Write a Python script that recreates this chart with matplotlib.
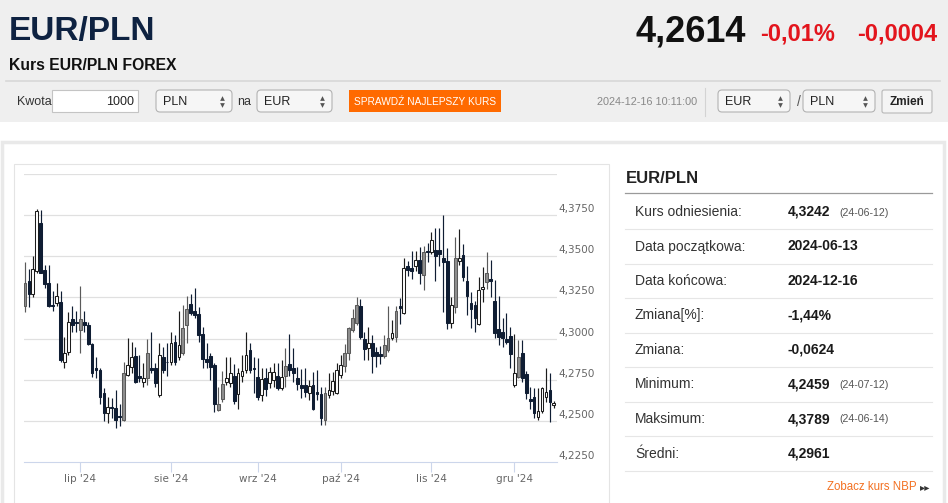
import matplotlib
matplotlib.use("Agg")
import matplotlib.pyplot as plt
from matplotlib.patches import Rectangle, FancyBboxPatch
from matplotlib import transforms
import pandas as pd

plt.rcParams['font.family'] = ['Liberation Sans', 'DejaVu Sans']

# --> candle data, 2024-06-11 .. 2024-12-16 (trading days)
opens = [4.3195, 4.3347, 4.3268, 4.3408, 4.3700, 4.3415, 4.3340, 4.3204, 4.3219, 4.3220,
         4.2860, 4.2920, 4.3120, 4.3097, 4.3055, 4.3103, 4.3085, 4.2970, 4.2823, 4.2810,
         4.2670, 4.2550, 4.2585, 4.2580, 4.2527, 4.2506, 4.2780, 4.2830, 4.2896, 4.2775,
         4.2738, 4.2762, 4.2823, 4.2820, 4.2659, 4.2890, 4.2860, 4.2860, 4.2980, 4.2890,
         4.2914, 4.3080, 4.3213, 4.3170, 4.3152, 4.3030, 4.2878, 4.2897, 4.2840, 4.2567,
         4.2635, 4.2738, 4.2730, 4.2774, 4.2665, 4.2775, 4.2811, 4.2930, 4.2823, 4.2768,
         4.2659, 4.2762, 4.2730, 4.2750, 4.2775, 4.2701, 4.2774, 4.2848, 4.2823, 4.2762,
         4.2720, 4.2720, 4.2671, 4.2720, 4.2677, 4.2665, 4.2506, 4.2659, 4.2683, 4.2671,
         4.2781, 4.2836, 4.2915, 4.3055, 4.3097, 4.3195, 4.2999, 4.2945, 4.2975, 4.2920,
         4.2909, 4.2896, 4.2932, 4.3006, 4.3012, 4.3195, 4.3158, 4.3439, 4.3426, 4.3439,
         4.3476, 4.3384, 4.3531, 4.3525, 4.3537, 4.3537, 4.3488, 4.3470, 4.3097, 4.3189,
         4.3470, 4.3506, 4.3347, 4.3219, 4.3201, 4.3091, 4.3299, 4.3342, 4.3360, 4.3226,
         4.3061, 4.3042, 4.2999, 4.3018, 4.2720, 4.2768, 4.2915, 4.2787, 4.2634, 4.2646,
         4.2524, 4.2561, 4.2646, 4.2689, 4.2598]
highs = [4.3463, 4.3420, 4.3500, 4.3789, 4.3782, 4.3450, 4.3450, 4.3287, 4.3340, 4.3290,
         4.3010, 4.3160, 4.3200, 4.3165, 4.3320, 4.3165, 4.3100, 4.2975, 4.2890, 4.2820,
         4.2700, 4.2646, 4.2640, 4.2690, 4.2600, 4.2860, 4.3006, 4.2980, 4.2950, 4.2900,
         4.2850, 4.3000, 4.3037, 4.2850, 4.2976, 4.2950, 4.2976, 4.3037, 4.3024, 4.3165,
         4.3207, 4.3256, 4.3270, 4.3310, 4.3189, 4.3070, 4.2976, 4.2915, 4.2854, 4.2708,
         4.2805, 4.2890, 4.2890, 4.2848, 4.2820, 4.2900, 4.3037, 4.2976, 4.2890, 4.2884,
         4.2820, 4.2820, 4.2829, 4.2854, 4.2854, 4.2872, 4.2945, 4.3030, 4.2945, 4.2829,
         4.2817, 4.2823, 4.2750, 4.2799, 4.2811, 4.2708, 4.2708, 4.2793, 4.2799, 4.2854,
         4.2900, 4.2970, 4.3073, 4.3177, 4.3250, 4.3238, 4.3042, 4.3073, 4.3024, 4.2950,
         4.2957, 4.3024, 4.3200, 4.3110, 4.3200, 4.3244, 4.3487, 4.3470, 4.3530, 4.3530,
         4.3555, 4.3560, 4.3580, 4.3646, 4.3670, 4.3670, 4.3750, 4.3549, 4.3250, 4.3616,
         4.3665, 4.3573, 4.3439, 4.3280, 4.3226, 4.3372, 4.3433, 4.3524, 4.3476, 4.3354,
         4.3256, 4.3128, 4.3158, 4.3073, 4.3030, 4.2994, 4.2994, 4.2805, 4.2708, 4.2701,
         4.2701, 4.2707, 4.2823, 4.2793, 4.2622]
lows = [4.3164, 4.3190, 4.3250, 4.3396, 4.3400, 4.3310, 4.3190, 4.3165, 4.3195, 4.2860,
        4.2820, 4.2900, 4.3040, 4.3040, 4.2910, 4.3040, 4.2963, 4.2768, 4.2760, 4.2600,
        4.2497, 4.2487, 4.2520, 4.2459, 4.2470, 4.2497, 4.2770, 4.2790, 4.2732, 4.2738,
        4.2708, 4.2720, 4.2790, 4.2708, 4.2647, 4.2790, 4.2770, 4.2840, 4.2840, 4.2870,
        4.2900, 4.2975, 4.3146, 4.3128, 4.2980, 4.2820, 4.2820, 4.2750, 4.2555, 4.2561,
        4.2616, 4.2720, 4.2708, 4.2604, 4.2574, 4.2738, 4.2790, 4.2790, 4.2670, 4.2628,
        4.2622, 4.2653, 4.2702, 4.2708, 4.2689, 4.2689, 4.2708, 4.2770, 4.2738, 4.2689,
        4.2640, 4.2646, 4.2628, 4.2567, 4.2628, 4.2475, 4.2475, 4.2640, 4.2659, 4.2665,
        4.2762, 4.2799, 4.2872, 4.3037, 4.3085, 4.3000, 4.2870, 4.2870, 4.2792, 4.2829,
        4.2848, 4.2884, 4.2920, 4.2994, 4.2980, 4.3091, 4.3152, 4.3380, 4.3360, 4.3408,
        4.3330, 4.3293, 4.3463, 4.3512, 4.3347, 4.3440, 4.3160, 4.3060, 4.3067, 4.3158,
        4.3450, 4.3348, 4.3146, 4.3067, 4.3040, 4.3085, 4.3220, 4.3300, 4.3250, 4.3006,
        4.2963, 4.2951, 4.2970, 4.2823, 4.2708, 4.2762, 4.2738, 4.2634, 4.2573, 4.2518,
        4.2506, 4.2549, 4.2616, 4.2494, 4.2579]
closes = [4.3335, 4.3268, 4.3420, 4.3774, 4.3400, 4.3330, 4.3195, 4.3195, 4.3256, 4.2870,
          4.2914, 4.3103, 4.3080, 4.3095, 4.3120, 4.3085, 4.2970, 4.2790, 4.2810, 4.2645,
          4.2550, 4.2585, 4.2580, 4.2506, 4.2524, 4.2793, 4.2840, 4.2890, 4.2738, 4.2762,
          4.2762, 4.2915, 4.2810, 4.2730, 4.2903, 4.2810, 4.2855, 4.2975, 4.2860, 4.2963,
          4.3067, 4.3180, 4.3158, 4.3146, 4.3020, 4.2878, 4.2855, 4.2830, 4.2600, 4.2604,
          4.2726, 4.2762, 4.2793, 4.2622, 4.2793, 4.2805, 4.2903, 4.2811, 4.2817, 4.2646,
          4.2756, 4.2695, 4.2799, 4.2799, 4.2701, 4.2768, 4.2836, 4.2811, 4.2793, 4.2726,
          4.2701, 4.2677, 4.2713, 4.2573, 4.2665, 4.2518, 4.2671, 4.2689, 4.2744, 4.2811,
          4.2842, 4.2915, 4.3067, 4.3122, 4.3207, 4.3012, 4.2939, 4.2975, 4.2896, 4.2896,
          4.2896, 4.2963, 4.3005, 4.3036, 4.3165, 4.3183, 4.3426, 4.3415, 4.3408, 4.3476,
          4.3396, 4.3524, 4.3525, 4.3598, 4.3500, 4.3512, 4.3463, 4.3097, 4.3201, 4.3488,
          4.3488, 4.3372, 4.3256, 4.3177, 4.3128, 4.3293, 4.3311, 4.3400, 4.3348, 4.3036,
          4.3012, 4.3006, 4.2982, 4.2908, 4.2793, 4.2890, 4.2762, 4.2671, 4.2622, 4.2549,
          4.2561, 4.2701, 4.2677, 4.2616, 4.2610]
# candles drawn in gray in the reference
gray_idx = [0, 14, 25, 31, 40, 41, 49, 50, 66, 76, 81, 82, 83, 84, 91, 92, 94, 101, 109, 117, 125]

dates = pd.bdate_range("2024-06-11", "2024-12-16")
month_names = {7: "lip", 8: "sie", 9: "wrz", 10: "paź", 11: "lis", 12: "gru"}
y_ticks = [4.2250, 4.2500, 4.2750, 4.3000, 4.3250, 4.3500, 4.3750]
grid_vals = [4.2500, 4.2750, 4.3000, 4.3250, 4.3500, 4.3750, 4.4000]

# --> header / side panel texts
price = "4,2614"
change_pct = "-0,01%"
change_abs = "-0,0004"
stamp = "2024-12-16 10:11:00"
row_labels = ["Kurs odniesienia:", "Data początkowa:", "Data końcowa:", "Zmiana[%]:",
              "Zmiana:", "Minimum:", "Maksimum:", "Średni:"]
row_values = ["4,3242", "2024-06-13", "2024-12-16", "-1,44%", "-0,0624", "4,2459", "4,3789", "4,2961"]
row_notes = ["(24-06-12)", "", "", "", "", "(24-07-12)", "(24-06-14)", ""]

W, H = 948, 503
fig = plt.figure(figsize=(W / 100, H / 100), dpi=100)
fig.patch.set_facecolor("white")

page = fig.add_axes([0, 0, 1, 1])
page.set_xlim(0, W)
page.set_ylim(H, 0)
page.axis("off")

# header band
page.add_patch(Rectangle((0, 0), W, 122, fc="#efefef", ec="none"))
page.text(9, 40, "EUR/PLN", fontsize=24, fontweight="bold", color="#0e2241", va="baseline")
page.text(746, 41, price, fontsize=26, fontweight="bold", color="#111111", ha="right", va="baseline")
page.text(760, 40, change_pct, fontsize=17, fontweight="bold", color="#e3151d", va="baseline")
page.text(937, 40, change_abs, fontsize=17, fontweight="bold", color="#e3151d", ha="right", va="baseline")
page.text(9, 70, "Kurs EUR/PLN FOREX", fontsize=11.3, fontweight="bold", color="#111111", va="baseline")
page.plot([6, 940], [81, 81], color="#d8d8d8", lw=1.2)


def select_box(x0, x1, label):
    page.add_patch(FancyBboxPatch((x0, 90), x1 - x0, 22, boxstyle="round,pad=0,rounding_size=4",
                                  fc="#f6f6f6", ec="#b3b3b3", lw=0.8))
    page.text(x0 + 7, 101.5, label, fontsize=9, color="#222222", va="center")
    page.plot([x1 - 10], [98], marker="^", ms=3.4, color="#555555", mec="none")
    page.plot([x1 - 10], [105], marker="v", ms=3.4, color="#555555", mec="none")


page.text(17, 101.5, "Kwota", fontsize=9, color="#333333", va="center")
page.add_patch(Rectangle((52, 90), 86, 22, fc="white", ec="#c4c4c4", lw=0.8))
page.text(134, 101.5, "1000", fontsize=9, color="#222222", ha="right", va="center")
select_box(156, 232, "PLN")
page.text(237, 101.5, "na", fontsize=9, color="#333333", va="center")
select_box(257, 332, "EUR")
page.add_patch(Rectangle((349, 90), 152, 22, fc="#ff6a00", ec="none"))
page.text(425, 101.5, "SPRAWDŹ NAJLEPSZY KURS", fontsize=7.3, color="white", ha="center", va="center")
page.text(597, 101.5, stamp, fontsize=7.8, color="#888888", va="center")
page.plot([705, 705], [88, 116], color="#d3d3d3", lw=0.8)
select_box(718, 790, "EUR")
page.text(797, 102, "/", fontsize=10, color="#555555", va="center")
select_box(803, 875, "PLN")
page.add_patch(FancyBboxPatch((882, 90), 50, 23, boxstyle="round,pad=0,rounding_size=2",
                              fc="#f4f4f4", ec="#b8b8b8", lw=0.8))
page.text(907, 102, "Zmień", fontsize=8.5, fontweight="bold", color="#222222", ha="center", va="center")

# outer card and chart box
page.add_patch(Rectangle((2, 142), 942, 380, fc="white", ec="#e9e9e9", lw=2.5))
page.add_patch(Rectangle((14, 164), 595, 350, fc="white", ec="#e4e4e4", lw=0.8))

# side panel
page.text(626, 183, "EUR/PLN", fontsize=12, fontweight="bold", color="#222222", va="baseline")
page.plot([625, 932], [192.7, 192.7], color="#9a9a9a", lw=0.9)
for i, (lab, val, note) in enumerate(zip(row_labels, row_values, row_notes)):
    yc = 212 + i * 34.5
    page.text(635, yc, lab, fontsize=10, color="#333333", va="center")
    page.text(788, yc, val, fontsize=10, fontweight="bold", color="#1a1a1a", va="center")
    if note:
        page.text(839, yc + 0.5, note, fontsize=7.7, color="#555555", va="center")
    page.plot([625, 932], [yc + 17.3, yc + 17.3], color="#e6e6e6", lw=0.8)
page.text(827, 487, "Zobacz kurs NBP", fontsize=8.3, color="#f37021", va="center")
page.text(920, 487.5, "▸▸", fontsize=7.5, color="#333333", va="center", family="DejaVu Sans")

# --> candlestick chart
ax = fig.add_axes([24 / W, 1 - 462 / H, 533 / W, 288 / H])
ax.set_facecolor("none")
ax.set_xlim(-0.25, 134.8)
ax.set_ylim(4.225, 4.40)
for s in ["top", "left", "right"]:
    ax.spines[s].set_visible(False)
ax.spines["bottom"].set_color("#ccd6eb")
ax.spines["bottom"].set_linewidth(0.8)
for g in grid_vals:
    ax.axhline(g, color="#e0e0e0", lw=0.9, zorder=0)

for i in range(len(opens)):
    o, h, l, c = opens[i], highs[i], lows[i], closes[i]
    if i in gray_idx:
        fc, ec = "#8f8f8f", "#5a5a5a"
    elif c >= o:
        fc, ec = "white", "#1c1c1c"
    else:
        fc, ec = "#0f1d33", "#0f1d33"
    ax.vlines(i, l, h, colors=ec, lw=0.85, zorder=2)
    ax.bar(i, max(abs(c - o), 0.0005), bottom=min(o, c), width=0.7,
           color=fc, edgecolor=ec, linewidth=0.75, zorder=3)

tick_pos, tick_lab = [], []
for i, d in enumerate(dates):
    if i > 0 and d.month != dates[i - 1].month:
        tick_pos.append(i)
        tick_lab.append(f"{month_names[d.month]} '24")
ax.set_xticks(tick_pos)
ax.set_xticklabels(tick_lab, fontsize=7.5, color="#666666", family="DejaVu Sans")
ax.tick_params(axis="x", length=7, width=0.8, color="#ccd6eb", pad=1.5)
ax.set_yticks([])

lab_tr = transforms.offset_copy(ax.get_yaxis_transform(), fig=fig, x=1, y=6, units="dots")
for v in y_ticks:
    ax.text(1.0, v, f"{v:.4f}".replace(".", ","), transform=lab_tr, fontsize=7.5,
            color="#666666", va="center", ha="left", family="DejaVu Sans")

fig.savefig("out.png", dpi=100)
